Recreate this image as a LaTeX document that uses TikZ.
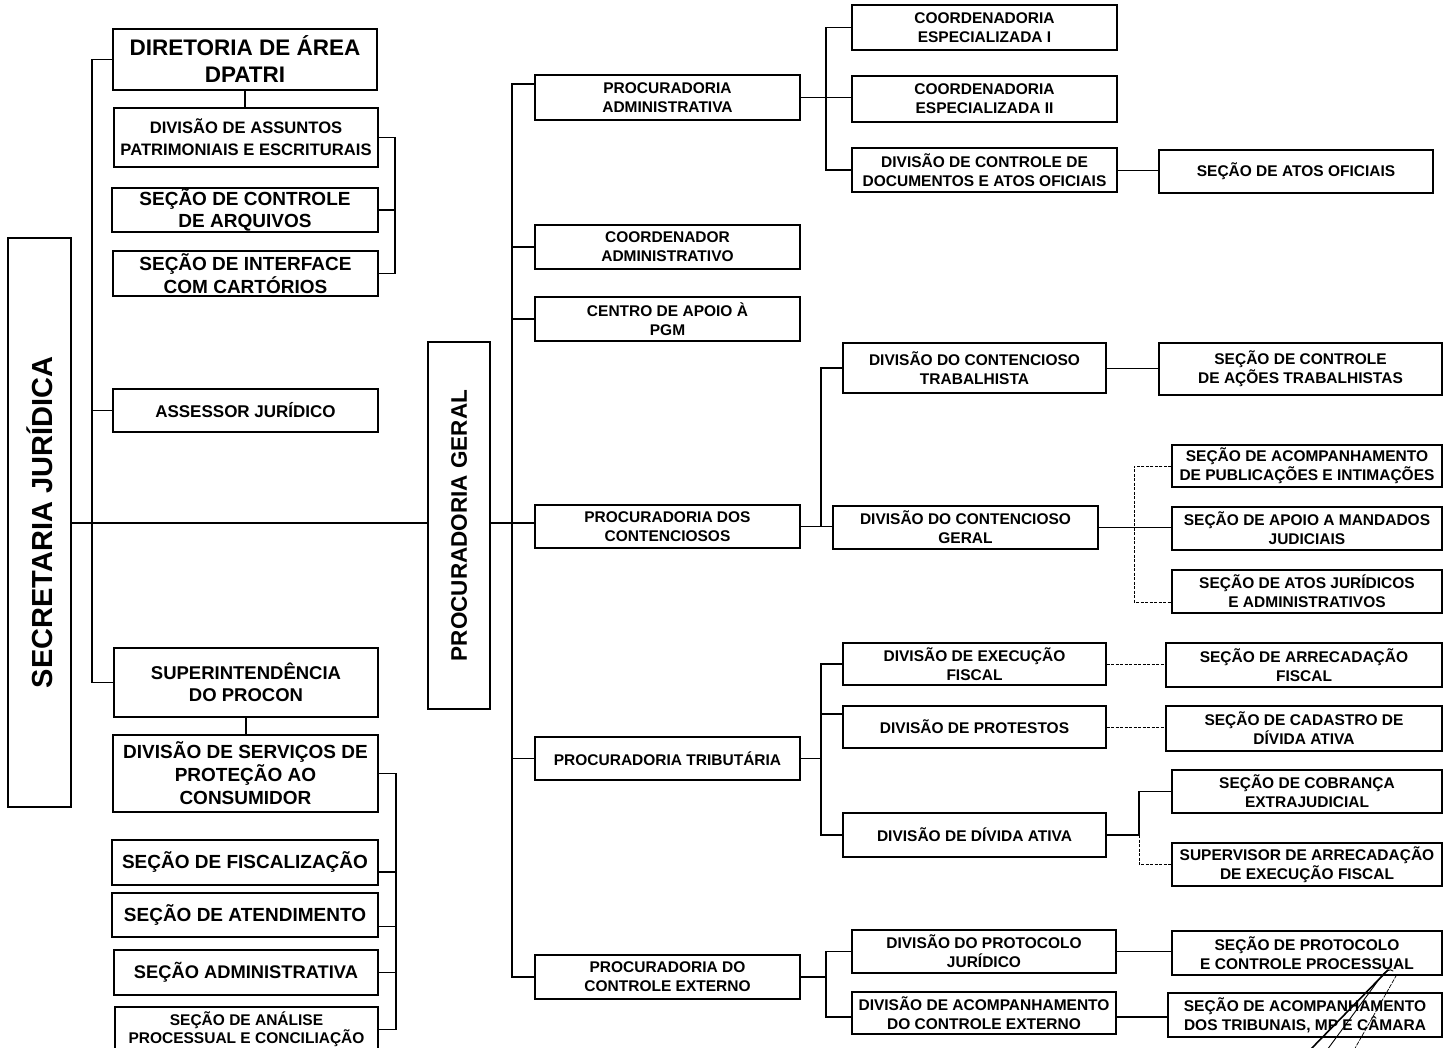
\documentclass[tikz,border=0pt]{standalone}
\usepackage{fontspec}
\setmainfont{Liberation Sans}
\begin{document}
\begin{tikzpicture}[x=1pt,y=-1pt,
  box/.style={draw, line width=1.2pt, inner sep=0pt, align=center},
  txtS/.style={font=\fontsize{15.5}{19}\selectfont\bfseries},
  txtM/.style={font=\fontsize{17}{22}\selectfont\bfseries},
  txtL/.style={font=\fontsize{19}{22.5}\selectfont\bfseries},
  txtXL/.style={font=\fontsize{22.5}{27}\selectfont\bfseries},
  link/.style={line width=1.2pt},
  thinlink/.style={line width=0.8pt},
  dotlink/.style={line width=0.8pt, dash pattern=on 3pt off 1.5pt},
  pen/.style={line width=0.9pt, line cap=round}
]
\useasboundingbox (0,0) rectangle (1443,1048);
\fill[white] (0,0) rectangle (1443,1048);

% ---------- Secretaria Jurídica (left branch) ----------
\node[box, minimum width=63pt, minimum height=569pt] (sj) at (39.5,522.5) {};
\node[rotate=90, font=\fontsize{29}{34}\selectfont\bfseries] (sjt) at (sj.center) {SECRETARIA JURÍDICA};

\node[box, txtXL, minimum width=264pt, minimum height=61pt] (dir) at (245,59.5) {DIRETORIA DE ÁREA\\DPATRI};
\node[box, font=\fontsize{16.6}{22}\selectfont\bfseries, minimum width=264pt, minimum height=59pt] (dasp) at (246,137.5) {DIVISÃO DE ASSUNTOS\\PATRIMONIAIS E ESCRITURAIS};
\node[box, txtL, minimum width=266pt, minimum height=44pt] (sca) at (245,210) {SEÇÃO DE CONTROLE\\DE ARQUIVOS};
\node[box, txtL, minimum width=265pt, minimum height=45pt] (sic) at (245.5,273.5) {SEÇÃO DE INTERFACE\\COM CARTÓRIOS};
\node[box, txtM, minimum width=265pt, minimum height=43pt] (asj) at (245.5,410.5) {ASSESSOR JURÍDICO};
\node[box, font=\fontsize{18.5}{22}\selectfont\bfseries, minimum width=264pt, minimum height=69pt] (sup) at (246,682.5) {SUPERINTENDÊNCIA\\DO PROCON};
\node[box, font=\fontsize{19}{23}\selectfont\bfseries, minimum width=265pt, minimum height=77pt] (dsp) at (245.5,773.5) {DIVISÃO DE SERVIÇOS DE\\PROTEÇÃO AO\\CONSUMIDOR};
\node[box, txtL, minimum width=266pt, minimum height=45pt] (sfi) at (245,862.5) {SEÇÃO DE FISCALIZAÇÃO};
\node[box, txtL, minimum width=266pt, minimum height=44pt] (sat) at (245,915) {SEÇÃO DE ATENDIMENTO};
\node[box, font=\fontsize{18.3}{22}\selectfont\bfseries, minimum width=264pt, minimum height=45pt] (sad) at (246,972.5) {SEÇÃO ADMINISTRATIVA};
\node[box, font=\fontsize{15.5}{18}\selectfont\bfseries, minimum width=263pt, minimum height=45pt] (san) at (246.5,1029.5) {SEÇÃO DE ANÁLISE\\PROCESSUAL E CONCILIAÇÃO};

% ---------- Procuradoria Geral ----------
\node[box, minimum width=62pt, minimum height=367pt] (pg) at (459,525.5) {};
\node[rotate=90, txtXL] (pgt) at (pg.center) {PROCURADORIA GERAL};

\node[box, txtS, minimum width=265pt, minimum height=45pt] (pad) at (667.5,97.5) {PROCURADORIA\\ADMINISTRATIVA};
\node[box, txtS, minimum width=265pt, minimum height=44pt] (cad) at (667.5,247) {COORDENADOR\\ADMINISTRATIVO};
\node[box, txtS, minimum width=265pt, minimum height=44pt] (cap) at (667.5,319) {CENTRO DE APOIO À\\PGM};
\node[box, txtS, minimum width=265pt, minimum height=43pt] (pdc) at (667.5,526.5) {PROCURADORIA DOS\\CONTENCIOSOS};
\node[box, txtS, minimum width=265pt, minimum height=43pt] (ptr) at (667.5,758.5) {PROCURADORIA TRIBUTÁRIA};
\node[box, txtS, minimum width=265pt, minimum height=44pt] (pce) at (667.5,977) {PROCURADORIA DO\\CONTROLE EXTERNO};

% Procuradoria Administrativa units
\node[box, txtS, minimum width=265pt, minimum height=45pt] (ce1) at (984.5,27.5) {COORDENADORIA\\ESPECIALIZADA I};
\node[box, txtS, minimum width=265pt, minimum height=46pt] (ce2) at (984.5,99) {COORDENADORIA\\ESPECIALIZADA II};
\node[box, txtS, minimum width=265pt, minimum height=44pt] (dcd) at (984.5,170) {DIVISÃO DE CONTROLE DE\\DOCUMENTOS E ATOS OFICIAIS};
\node[box, txtS, minimum width=274pt, minimum height=43pt] (sao) at (1296,171.5) {SEÇÃO DE ATOS OFICIAIS};

% Procuradoria dos Contenciosos units
\node[box, txtS, minimum width=263pt, minimum height=50pt] (dct) at (974.5,368) {DIVISÃO DO CONTENCIOSO\\TRABALHISTA};
\node[box, txtS, minimum width=283pt, minimum height=52pt] (scat) at (1300.5,369) {SEÇÃO DE CONTROLE\\DE AÇÕES TRABALHISTAS};
\node[box, txtS, minimum width=265pt, minimum height=43pt] (dcg) at (965.5,527.5) {DIVISÃO DO CONTENCIOSO\\GERAL};
\node[box, txtS, minimum width=270pt, minimum height=42pt] (sapi) at (1307,466) {SEÇÃO DE ACOMPANHAMENTO\\DE PUBLICAÇÕES E INTIMAÇÕES};
\node[box, txtS, minimum width=270pt, minimum height=43pt] (sam) at (1307,528.5) {SEÇÃO DE APOIO A MANDADOS\\JUDICIAIS};
\node[box, txtS, minimum width=270pt, minimum height=43pt] (saj) at (1307,591.5) {SEÇÃO DE ATOS JURÍDICOS\\E ADMINISTRATIVOS};

% Procuradoria Tributária units
\node[box, txtS, minimum width=263pt, minimum height=42pt] (def) at (974.5,664) {DIVISÃO DE EXECUÇÃO\\FISCAL};
\node[box, txtS, minimum width=263pt, minimum height=42pt] (dpr) at (974.5,727) {DIVISÃO DE PROTESTOS};
\node[box, txtS, minimum width=263pt, minimum height=44pt] (dda) at (974.5,835) {DIVISÃO DE DÍVIDA ATIVA};
\node[box, txtS, minimum width=276pt, minimum height=44pt] (saf) at (1304,665) {SEÇÃO DE ARRECADAÇÃO\\FISCAL};
\node[box, txtS, minimum width=276pt, minimum height=45pt] (scd) at (1304,728.5) {SEÇÃO DE CADASTRO DE\\DÍVIDA ATIVA};
\node[box, txtS, minimum width=270pt, minimum height=43pt] (scx) at (1307,791.5) {SEÇÃO DE COBRANÇA\\EXTRAJUDICIAL};
\node[box, txtS, minimum width=270pt, minimum height=43pt] (sva) at (1307,864.5) {SUPERVISOR DE ARRECADAÇÃO\\DE EXECUÇÃO FISCAL};

% Procuradoria do Controle Externo units
\node[box, txtS, minimum width=264pt, minimum height=43pt] (dpj) at (984,951.5) {DIVISÃO DO PROTOCOLO\\JURÍDICO};
\node[box, txtS, minimum width=264pt, minimum height=42pt] (dac) at (984,1013) {DIVISÃO DE ACOMPANHAMENTO\\DO CONTROLE EXTERNO};
\node[box, txtS, minimum width=270pt, minimum height=44pt] (spp) at (1307,953) {SEÇÃO DE PROTOCOLO\\E CONTROLE PROCESSUAL};
\node[box, txtS, minimum width=274pt, minimum height=44pt] (stc) at (1305,1015) {SEÇÃO DE ACOMPANHAMENTO\\DOS TRIBUNAIS, MP E CÂMARA};

% ---------- connector guide positions ----------
\coordinate (mainy) at (0,523);
\coordinate (lx) at (92,0);
\coordinate (rb1) at (395,0);
\coordinate (rb2) at (396,0);
\coordinate (mx) at (512,0);
\coordinate (ax) at (826,0);
\coordinate (bx) at (821,0);
\coordinate (cx1) at (1134,0);
\coordinate (cx2) at (1139,0);
\coordinate (dx) at (826,0);
\coordinate (fisA) at ([yshift=-9.5pt]sfi.east);
\coordinate (atnA) at ([yshift=-11pt]sat.east);
\coordinate (padA) at ([yshift=13.5pt]pad.west);
\coordinate (sajA) at ([yshift=-10.5pt]saj.west);
\coordinate (dprA) at ([yshift=13pt]dpr.west);
\coordinate (dacA) at ([yshift=-4pt]dac.west);
\coordinate (dacB) at ([yshift=-4pt]dac.east);

% ---------- connectors: left side ----------
\draw[link] (sj.east |- mainy) -- (pg.west |- mainy);
\draw[link] (dir.west) -| (lx |- sup.west) -- (sup.west);
\draw[link] (asj.west) -- (asj.west -| lx);
\draw[link] (dir.south) -- (dir.south |- dasp.north);
\draw[link] (dasp.east) -| (rb1 |- sic.east) -- (sic.east);
\draw[link] (sca.east) -- (sca.east -| rb1);
\draw[link] (sup.south) -- (sup.south |- dsp.north);
\draw[link] (dsp.east) -| (rb2 |- san.east) -- (san.east);
\draw[link] (fisA) -- (fisA -| rb2);
\draw[thinlink] (atnA) -- (atnA -| rb2);
\draw[link] (sad.east) -- (sad.east -| rb2);

% ---------- connectors: Procuradoria Geral ----------
\draw[link] (pg.east |- mainy) -- (pdc.west |- mainy);
\draw[link] (padA) -| (mx |- pce.west) -- (pce.west);
\draw[link] (cad.west) -- (cad.west -| mx);
\draw[link] (cap.west) -- (cap.west -| mx);
\draw[thinlink] (ptr.west) -- (ptr.west -| mx);

% Procuradoria Administrativa
\draw[link] (ce1.west) -| (ax |- dcd.west) -- (dcd.west);
\draw[link] (pad.east) -- (ce2.west |- pad.east);
\draw[thinlink] (dcd.east) -- (dcd.east -| sao.west);

% Procuradoria dos Contenciosos
\draw[link] (dct.west) -| (bx |- pdc.east);
\draw[link] (pdc.east) -- (dcg.west |- pdc.east);
\draw[thinlink] (dct.east) -- (dct.east -| scat.west);
\draw[link] (dcg.east) -- (dcg.east -| sam.west);
\draw[dotlink] (sapi.west) -| (cx1 |- sajA) -- (sajA);

% Procuradoria Tributária
\draw[link] (def.west) -| (bx |- dda.west) -- (dda.west);
\draw[link] (dprA) -- (dprA -| bx);
\draw[link] (ptr.east) -- (ptr.east -| bx);
\draw[dotlink] (def.east) -- (def.east -| saf.west);
\draw[dotlink] (dpr.east) -- (dpr.east -| scd.west);
\draw[link] (dda.east) -- (dda.east -| cx2);
\draw[link] (scx.west) -| (cx2 |- dda.east);
\draw[dotlink] (cx2 |- dda.east) |- (sva.west);

% Procuradoria do Controle Externo
\draw[link] (pce.east) -- (pce.east -| dx);
\draw[link] (dpj.west) -| (dx |- dacA) -- (dacA);
\draw[thinlink] (dpj.east) -- (dpj.east -| spp.west);
\draw[link] (dacB) -- (dacB -| stc.west);

% ---------- handwritten strokes over the lower right corner ----------
\draw[pen, line width=1.6pt] (1310,1050) -- (1388,970);
\draw[pen] (1327,1050) -- (1380,978) .. controls (1385,971) and (1390,968) .. (1393,971);
\draw[pen, line width=0.7pt, dash pattern=on 4pt off 1.5pt] (1354,1050) -- (1396,976);
\end{tikzpicture}
\end{document}
